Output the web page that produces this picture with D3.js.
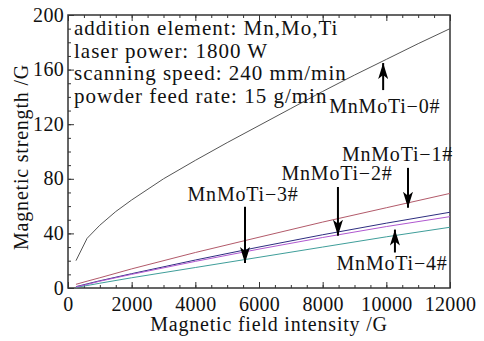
<!DOCTYPE html>
<html>
<head>
<meta charset="utf-8">
<script src="https://cdn.jsdelivr.net/npm/d3@7"></script>
<style>
	body { margin: 0; background: #fff; }
	svg { display: block; }
	svg text { font-family: "Liberation Serif", "Times New Roman", "DejaVu Serif", serif; }
</style>
</head>
<body>
<div id="chart"></div>
<script>
'use strict';

// field intensity (G) sample points
const xBlack = [250, 600, 1000, 1500, 2000, 3000, 4000, 5000, 6000, 7000, 8000, 9000, 10000, 11000, 12000];
const yBlack = [20, 36.4, 46, 56, 64.5, 80, 93.5, 106.5, 119, 131.5, 144, 156, 167.5, 179, 190];

const xColour = [250, 600, 1000, 2000, 4000, 6000, 8000, 10000, 12000];
const yRed    = [2.7, 5, 7.5, 14, 26, 37.2, 48.3, 58.8, 69.3];
const yBlue   = [1, 3, 5.3, 10.5, 20.5, 30, 39, 47.5, 55.5];
const yPurple = [0.8, 2.6, 5, 10, 19.5, 28.5, 37, 45, 52.3];
const yTeal   = [0.5, 1.8, 3.5, 7.5, 15, 22.5, 30, 37.5, 44.5];

const xTicks = [0, 2000, 4000, 6000, 8000, 10000, 12000];
const yTicks = [0, 40, 80, 120, 160, 200];

const infoLines = [
	"addition element: Mn,Mo,Ti",
	"laser power: 1800 W",
	"scanning speed: 240 mm/min",
	"powder feed rate: 15 g/min"
];

// arrow annotations: [label, x, tip y, tail y, label x, label y]  (data units)
const notes = [
	["MnMoTi\u22120#", 9900, 167, 145, 9950, 128],
	["MnMoTi\u22121#", 10680, 61, 88, 10350, 93],
	["MnMoTi\u22122#", 8480, 40.5, 74, 8450, 79],
	["MnMoTi\u22123#", 5560, 20.5, 59.5, 5500, 64],
	["MnMoTi\u22124#", 10270, 45, 26, 10180, 13]
];

const width = 484, height = 341;
const margin = { top: 15, right: 34, bottom: 53, left: 68 };
const iw = width - margin.left - margin.right;
const ih = height - margin.top - margin.bottom;
const ink = "#111";
const spacing = "0.8px";

const svg = d3.select("#chart").append("svg")
	.attr("width", width)
	.attr("height", height);

const g = svg.append("g")
	.attr("transform", `translate(${margin.left},${margin.top})`);

const x = d3.scaleLinear().domain([0, 12000]).range([0, iw]);
const y = d3.scaleLinear().domain([0, 200]).range([ih, 0]);

// frame
g.append("rect")
	.attr("width", iw).attr("height", ih)
	.attr("fill", "none").attr("stroke", "#333").attr("stroke-width", 1.5);

// minor ticks, inside
const minorX = d3.range(0, 12001, 500);
const minorY = d3.range(0, 201, 10);
g.append("g").attr("transform", `translate(0,${ih})`)
	.call(d3.axisBottom(x).tickValues(minorX).tickSize(-3).tickFormat(""));
g.append("g")
	.call(d3.axisTop(x).tickValues(minorX).tickSize(-3).tickFormat(""));
g.append("g")
	.call(d3.axisLeft(y).tickValues(minorY).tickSize(-3).tickFormat(""));

// major ticks with labels
const xAxis = g.append("g").attr("transform", `translate(0,${ih})`)
	.call(d3.axisBottom(x).tickValues(xTicks).tickSizeInner(-6).tickSizeOuter(0).tickPadding(8).tickFormat(d3.format("d")));
const yAxis = g.append("g")
	.call(d3.axisLeft(y).tickValues(yTicks).tickSizeInner(-6).tickSizeOuter(0).tickPadding(4));
g.append("g")
	.call(d3.axisTop(x).tickValues(xTicks).tickSize(-6).tickFormat(""));

g.selectAll(".domain").attr("stroke", "none");
g.selectAll(".tick line").attr("stroke", "#333");
g.selectAll("g").attr("font-family", null);
[xAxis, yAxis].forEach(a => a.selectAll("text")
	.attr("fill", ink)
	.attr("font-size", 20)
	.attr("letter-spacing", "0.3px"));
xAxis.selectAll("text").attr("dy", "0.75em");
yAxis.selectAll("text").attr("dy", "0.3em");

// axis titles
svg.append("text")
	.attr("x", 269).attr("y", 331)
	.attr("text-anchor", "middle")
	.attr("fill", ink).attr("font-size", 20).attr("letter-spacing", spacing)
	.text("Magnetic field intensity /G");
svg.append("text")
	.attr("transform", "translate(28,157) rotate(-90)")
	.attr("text-anchor", "middle")
	.attr("fill", ink).attr("font-size", 20).attr("letter-spacing", spacing)
	.text("Magnetic strength /G");

// curves
const line = d3.line().x(d => x(d[0])).y(d => y(d[1]));
const series = [
	[xBlack, yBlack, "#555"],
	[xColour, yRed, "#b25a6a"],
	[xColour, yBlue, "#2e2e80"],
	[xColour, yTeal, "#3f9e9a"],
	[xColour, yPurple, "#b058d0"]
];
series.forEach(([xs, ys, c]) => {
	g.append("path")
		.datum(xs.map((v, i) => [v, ys[i]]))
		.attr("d", line)
		.attr("fill", "none")
		.attr("stroke", c)
		.attr("stroke-width", 1);
});

// info text
g.append("g").selectAll("text")
	.data(infoLines)
	.join("text")
		.attr("x", 6)
		.attr("y", (d, i) => 20 + i * 22.7)
		.attr("fill", ink)
		.attr("font-size", 21)
		.attr("letter-spacing", "1px")
		.text(d => d);

// arrows
svg.append("defs").append("marker")
	.attr("id", "head")
	.attr("viewBox", "0 0 16 10")
	.attr("refX", 16).attr("refY", 5)
	.attr("markerWidth", 16).attr("markerHeight", 10)
	.attr("markerUnits", "userSpaceOnUse")
	.attr("orient", "auto")
	.append("path")
		.attr("d", "M0,0 L16,5 L0,10 L4,5 Z")
		.attr("fill", "#000");

const ann = g.append("g");
notes.forEach(([label, ax, tip, tail, lx, ly]) => {
	ann.append("line")
		.attr("x1", x(ax)).attr("y1", y(tail))
		.attr("x2", x(ax)).attr("y2", y(tip) + 3)
		.attr("stroke", "#000").attr("stroke-width", 2)
		.attr("marker-end", "url(#head)");
	ann.append("text")
		.attr("x", x(lx)).attr("y", y(ly))
		.attr("text-anchor", "middle")
		.attr("fill", ink)
		.attr("font-size", 20)
		.attr("letter-spacing", spacing)
		.text(label);
});
</script>
</body>
</html>
